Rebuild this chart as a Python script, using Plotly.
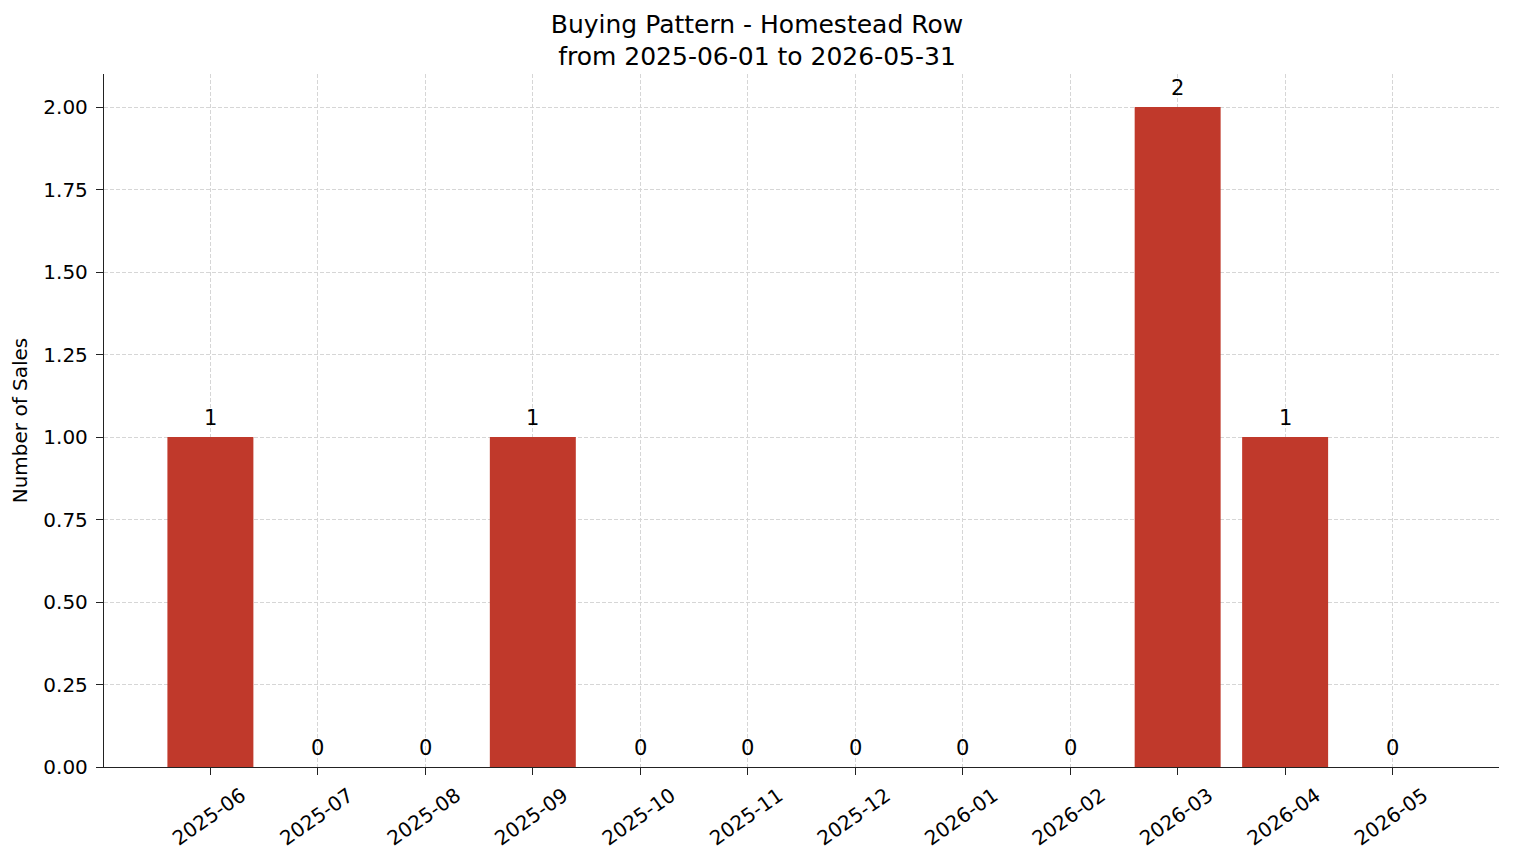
import plotly.graph_objects as go

months = ["2025-06", "2025-07", "2025-08", "2025-09", "2025-10", "2025-11",
          "2025-12", "2026-01", "2026-02", "2026-03", "2026-04", "2026-05"]
sales = [1, 0, 0, 1, 0, 0, 0, 0, 0, 2, 1, 0]

title_text = "Buying Pattern - Homestead Row<br>from 2025-06-01 to 2026-05-31"
y_title = "Number of Sales"
y_ticks = [0, 0.25, 0.5, 0.75, 1.0, 1.25, 1.5, 1.75, 2.0]

idx = list(range(len(months)))
font_family = "DejaVu Sans"

fig = go.Figure()
fig.add_trace(go.Bar(x=idx, y=sales, width=0.8, marker=dict(color="#c0392b", line=dict(width=0)),
                     hoverinfo="skip"))

for i, v in zip(idx, sales):
    fig.add_annotation(x=i, y=v, xref="x", yref="y", text=str(v), showarrow=False,
                       yanchor="bottom", xanchor="center", yshift=5,
                       font=dict(family=font_family, size=21, color="#000000"))

fig.update_layout(
    width=1514, height=863,
    margin=dict(l=104, r=15, t=74, b=96),
    paper_bgcolor="white", plot_bgcolor="white",
    showlegend=False,
    font=dict(family=font_family, size=20, color="#000000"),
    title=dict(text=title_text, x=0.5, xanchor="center", y=0.962, yanchor="top",
               font=dict(family=font_family, size=25, color="#000000")),
)
grid_kw = dict(showgrid=True, gridcolor="#d6d6d6", griddash="4px,2px", gridwidth=0.8)
fig.update_xaxes(
    range=[-0.99, 11.99], tickmode="array", tickvals=idx, ticktext=months,
    tickangle=-35, ticklabelshift=31, ticklabelstandoff=1,
    showline=True, linecolor="#222222", linewidth=1.3,
    ticks="outside", ticklen=7, tickcolor="#222222", tickwidth=1.3,
    zeroline=False, layer="above traces",
    tickfont=dict(family=font_family, size=20, color="#000000"),
    **grid_kw,
)
fig.update_yaxes(
    range=[0, 2.1], tickmode="array", tickvals=y_ticks,
    ticktext=[f"{v:.2f}" for v in y_ticks],
    showline=True, linecolor="#222222", linewidth=1.3,
    ticks="outside", ticklen=7, tickcolor="#222222", tickwidth=1.3,
    ticklabelstandoff=4,
    zeroline=False, layer="above traces",
    title=dict(text=y_title, standoff=10, font=dict(family=font_family, size=20)),
    tickfont=dict(family=font_family, size=20, color="#000000"),
    **grid_kw,
)

fig.write_html("out.html")
